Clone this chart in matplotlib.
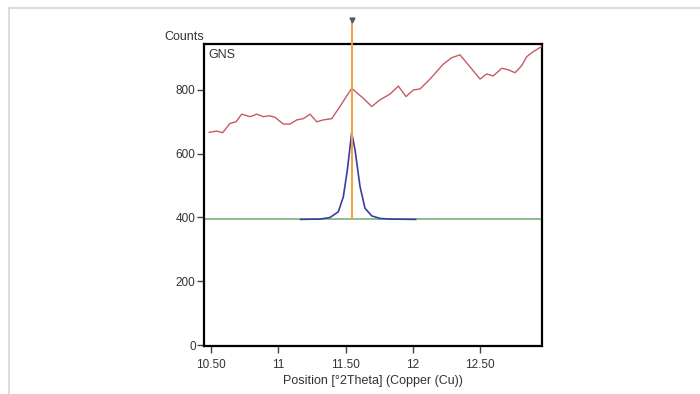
import matplotlib
matplotlib.use("Agg")
import matplotlib.pyplot as plt
from matplotlib.lines import Line2D

plt.rcParams['font.family'] = ['Liberation Sans', 'DejaVu Sans']

# Measured scan (red)
scan_x = [10.487, 10.542, 10.587, 10.641, 10.686, 10.728, 10.790, 10.840, 10.889,
          10.933, 10.976, 11.037, 11.087, 11.137, 11.186, 11.236, 11.285, 11.334,
          11.397, 11.458, 11.545, 11.631, 11.694, 11.756, 11.830, 11.892, 11.949,
          12.003, 12.053, 12.127, 12.226, 12.288, 12.350, 12.499, 12.548, 12.597,
          12.660, 12.709, 12.759, 12.808, 12.845, 12.894, 12.957]
scan_y = [667, 671, 666, 695, 700, 724, 716, 724, 716,
          719, 714, 693, 693, 706, 710, 724, 700, 706,
          710, 748, 805, 774, 748, 769, 787, 812, 779,
          800, 803, 834, 881, 901, 910, 834, 850, 844,
          868, 863, 854, 876, 904, 920, 936]

# Fitted profile (blue)
fit_x = [11.166, 11.310, 11.384, 11.446, 11.483, 11.513, 11.545, 11.570,
         11.607, 11.644, 11.694, 11.756, 11.830, 12.020]
fit_y = [394, 395, 400, 418, 465, 549, 666, 612,
         497, 429, 405, 397, 395, 394]

# Background level (green)
background = 394

# Peak position marker (orange)
peak_pos = 11.545
peak_top = 1010

x_ticks = [10.5, 11.0, 11.5, 12.0, 12.5]
x_tick_labels = ["10.50", "11", "11.50", "12", "12.50"]
y_ticks = [0, 200, 400, 600, 800]

fig = plt.figure(figsize=(7.0, 3.94), dpi=100)
ax = fig.add_axes([204 / 700, 1 - 346 / 394, 338 / 700, 302 / 394])

ax.set_xlim(10.448, 12.959)
ax.set_ylim(-3, 944)

ax.axhline(background, color="#86b886", lw=1.3, zorder=2)
ax.plot(fit_x, fit_y, color="#3d3ca4", lw=1.2, zorder=3)
ax.plot(scan_x, scan_y, color="#c65a66", lw=1.0, zorder=4)
ax.plot([peak_pos, peak_pos], [background, peak_top], color="#f0a23c",
        lw=1.4, clip_on=False, zorder=5)
ax.plot([peak_pos], [peak_top + 10], marker="v", color="#555566",
        markersize=3.5, clip_on=False, zorder=6)

for s in ax.spines.values():
    s.set_color("black")
    s.set_linewidth(1.6)

ax.set_xticks(x_ticks)
ax.set_xticklabels(x_tick_labels)
ax.set_yticks(y_ticks)
ax.tick_params(axis="both", direction="out", length=5, width=1,
               color="#444444", labelsize=8.5, labelcolor="#333333")
ax.tick_params(axis="x", pad=4)
ax.tick_params(axis="y", pad=1)

ax.set_xlabel("Position [°2Theta] (Copper (Cu))", fontsize=9, color="#333333",
              labelpad=3)
fig.text(164 / 700, 1 - 37 / 394, "Counts", fontsize=9, color="#333333",
         ha="left", va="center")
ax.text(0.012, 0.985, "GNS", transform=ax.transAxes, fontsize=9,
        color="#333333", ha="left", va="top")

# light frame lines along the top and left edges
fig.add_artist(Line2D([8.5 / 700, 1], [1 - 7.5 / 394, 1 - 7.5 / 394],
                      transform=fig.transFigure, color="#d6d6d6", lw=1.2))
fig.add_artist(Line2D([8.5 / 700, 8.5 / 700], [0, 1 - 7.5 / 394],
                      transform=fig.transFigure, color="#d6d6d6", lw=1.2))

fig.savefig("out.png", dpi=100)
